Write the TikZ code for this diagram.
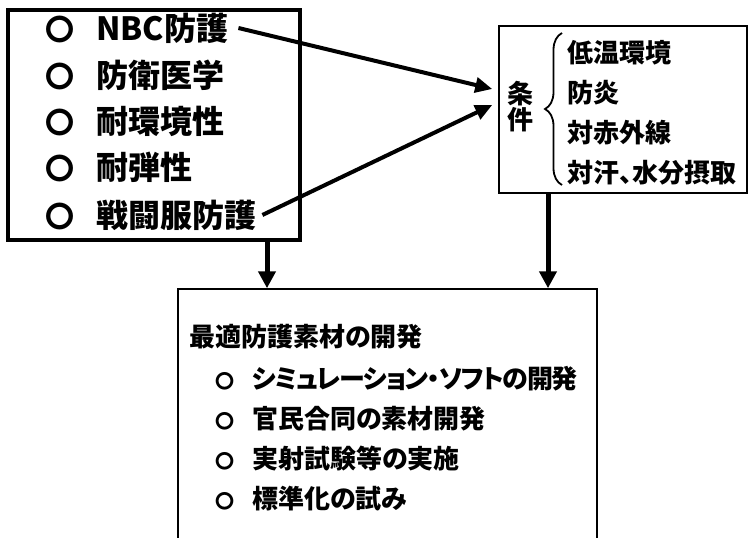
\documentclass[tikz,border=0pt]{standalone}
\usepackage{fontspec}
\newfontfamily\jp{Noto Sans CJK JP}[RawFeature={+palt}]
\newfontfamily\jpnarrow{Noto Sans CJK JP}[RawFeature={+palt}, LetterSpace=-5.5]
\usetikzlibrary{arrows.meta,decorations.pathreplacing,calc}
\begin{document}
\begin{tikzpicture}[x=1pt,y=-1pt,
  lt/.style={font=\jp\bfseries\fontsize{32}{34}\selectfont, anchor=west, inner sep=0pt},
  rt/.style={font=\jp\bfseries\fontsize{26}{28}\selectfont, anchor=west, inner sep=0pt},
  thinbox/.style={draw, line width=1.5pt, inner sep=0pt},
  thickbox/.style={draw, line width=3.5pt, inner sep=0pt},
  varr/.style={line width=5pt, -{Triangle[length=17pt,width=17pt]}},
  darr/.style={line width=4pt, -{Triangle[length=17pt,width=15pt]}},
  bracestyle/.style={line width=1.8pt, decorate, decoration={brace, amplitude=17pt}}]
\useasboundingbox (0,0) rectangle (748,538);
\clip (0,0) rectangle (748,538);
\fill[white] (0,0) rectangle (748,538);
% boxes
\node[thickbox, minimum width=292pt, minimum height=230pt] (L) at (154,125) {};
\node[thinbox, minimum width=248pt, minimum height=167pt] (R) at (623,109.5) {};
\node[thinbox, minimum width=419pt, minimum height=271pt] (B) at (387.5,424.5) {};
% left items
\node[lt] (l1) at (45,28) {{\fontsize{29}{29}\selectfont 〇}\hspace{22pt}NBC防護};
\node[lt] (l2) at (45,75) {{\fontsize{29}{29}\selectfont 〇}\hspace{22pt}防衛医学};
\node[lt] (l3) at (45,121) {{\fontsize{29}{29}\selectfont 〇}\hspace{22pt}耐環境性};
\node[lt] (l4) at (45,167) {{\fontsize{29}{29}\selectfont 〇}\hspace{22pt}耐弾性};
\node[lt] (l5) at (45,215) {{\fontsize{29}{29}\selectfont 〇}\hspace{22pt}戦闘服防護};
% right box
\node[rt, anchor=center, align=center, font=\jp\bfseries\fontsize{26}{26}\selectfont] (cond) at (520,107) {条\\件};
\coordinate (bb) at (562,185);
\coordinate (bt) at (562,33);
\draw[bracestyle] (bb) -- (bt);
\node[rt] (r1) at (567,53) {低温環境};
\node[rt] (r2) at (567,93) {防炎};
\node[rt] (r3) at (567,133) {対赤外線};
\node[rt] (r4) at (567,173) {対汗、水分摂取};
% bottom box
\node[rt] (b0) at (189,337) {最適防護素材の開発};
\node[rt] (b1) at (215,379) {{\fontsize{19}{19}\selectfont 〇}\hspace{18pt}{\jpnarrow\bfseries シミュレーション・ソフトの開発}};
\node[rt] (b2) at (215,419) {{\fontsize{19}{19}\selectfont 〇}\hspace{18pt}官民合同の素材開発};
\node[rt] (b3) at (215,459) {{\fontsize{19}{19}\selectfont 〇}\hspace{18pt}実射試験等の実施};
\node[rt] (b4) at (215,499) {{\fontsize{19}{19}\selectfont 〇}\hspace{18pt}標準化の試み};
% arrows
\coordinate (t1) at ($(R.west)+(-6,-20.5)$);
\coordinate (t2) at ($(R.west)+(-6,-4.5)$);
\draw[darr] ([xshift=10pt]l1.east) -- (t1);
\draw[darr] ([xshift=6pt]l5.east) -- (t2);
\coordinate (c1) at (267,0);
\coordinate (c2) at (548,0);
\draw[varr] (L.south -| c1) -- (B.north -| c1);
\draw[varr] (R.south -| c2) -- (B.north -| c2);
\end{tikzpicture}
\end{document}
